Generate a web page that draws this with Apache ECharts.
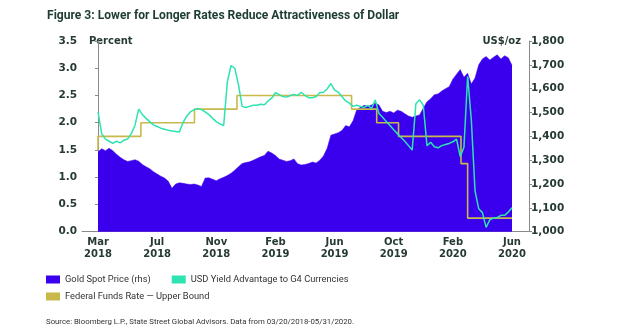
<!DOCTYPE html>
<html><head><meta charset="utf-8">
<script src="https://cdn.jsdelivr.net/npm/echarts@6/dist/echarts.min.js"></script>
<style>html,body{margin:0;padding:0;background:#fff}#c{width:617px;height:335px}</style>
</head><body><div id="c"></div>
<script>
// x positions are observation indices (roughly weekly, 03/20/2018 .. 05/31/2020)
const tickIdx = [0, 16, 32, 48, 64, 80, 96, 112];
const tickLabels = ['Mar\n2018','Jul\n2018','Nov\n2018','Feb\n2019','Jun\n2019','Oct\n2019','Feb\n2020','Jun\n2020'];

const goldPrice = [
 1335,1348,1340,1350,1340,1325,1312,1302,1295,1298,1302,1296,1282,1272,1264,1252,1242,1233,1225,1212,
 1182,1200,1205,1203,1200,1198,1200,1196,1190,1225,1226,1220,1214,1222,1228,1236,1245,1258,1272,1286,
 1290,1293,1300,1307,1314,1320,1338,1330,1320,1305,1300,1295,1298,1305,1285,1280,1282,1286,1292,1288,
 1300,1318,1350,1405,1410,1415,1425,1445,1440,1465,1512,1522,1530,1525,1532,1540,1532,1505,1500,1505,
 1498,1510,1505,1495,1485,1480,1485,1490,1518,1545,1558,1575,1578,1590,1600,1608,1640,1660,1680,1648,
 1665,1620,1645,1700,1725,1735,1720,1732,1742,1725,1738,1730,1698
];
const usdYieldAdv = [
 2.20,1.80,1.70,1.66,1.62,1.66,1.63,1.68,1.70,1.80,1.95,2.25,2.15,2.08,2.02,1.96,1.93,1.90,1.88,1.86,
 1.85,1.84,1.83,2.00,2.12,2.20,2.24,2.26,2.24,2.20,2.15,2.08,2.02,1.98,1.95,2.75,3.05,3.00,2.70,2.30,
 2.28,2.30,2.32,2.32,2.34,2.33,2.40,2.45,2.55,2.52,2.48,2.47,2.50,2.52,2.50,2.56,2.50,2.46,2.46,2.48,
 2.55,2.56,2.62,2.72,2.60,2.56,2.48,2.40,2.36,2.30,2.32,2.30,2.28,2.32,2.26,2.42,2.17,2.10,2.02,1.95,
 1.87,1.80,1.73,1.66,1.58,1.50,2.35,2.42,2.32,1.58,1.64,1.56,1.54,1.58,1.60,1.62,1.65,1.70,1.38,1.55,
 2.85,2.05,0.75,0.42,0.35,0.08,0.22,0.25,0.26,0.30,0.30,0.36,0.44
];
const fedChangeIdx = [0, 0, 11.6, 26.1, 37.6, 68.6, 75.4, 81.3, 98.2, 100.0, 112];
const fedUpperBound = [1.50, 1.75, 2.00, 2.25, 2.50, 2.25, 2.00, 1.75, 1.25, 0.25, 0.25];

const GOLD_C = '#3a00ee', USD_C = '#2de3b0', FED_C = '#c8b94a';
const TXT = '#263a33';
const AX = '#8a8a8a';
const tickFont = { fontFamily: '"DejaVu Sans"', fontWeight: 'bold', fontSize: 10, color: TXT };
const sans = 'Roboto, sans-serif';

const chart = echarts.init(document.getElementById('c'), null, { renderer: 'canvas' });
chart.setOption({
  animation: false,
  backgroundColor: '#fff',
  title: {
    text: 'Figure 3: Lower for Longer Rates Reduce Attractiveness of Dollar',
    left: 47, top: 10, padding: 0,
    textStyle: { fontFamily: sans, fontWeight: 'bold', fontSize: 12.1, color: '#1e3d31' }
  },
  grid: { left: 82, right: 88, top: 41, bottom: 103.3 },
  xAxis: {
    type: 'value', min: -4.33, max: 116.6,
    splitLine: { show: false },
    axisLine: { show: true, lineStyle: { color: AX, width: 1 } },
    axisTick: { show: false },
    axisLabel: Object.assign({
      customValues: tickIdx, margin: 4, lineHeight: 12.5,
      formatter: v => { const k = tickIdx.indexOf(Math.round(v)); return k >= 0 ? tickLabels[k] : ''; }
    }, tickFont)
  },
  yAxis: [
    {
      type: 'value', min: 0, max: 3.5, interval: 0.5, position: 'left',
      splitLine: { show: false },
      axisLine: { show: true, lineStyle: { color: AX } },
      axisTick: { show: true, length: 3, lineStyle: { color: AX } },
      axisLabel: Object.assign({ margin: 5, formatter: v => v.toFixed(1) }, tickFont, { fontSize: 10.5 })
    },
    {
      type: 'value', min: 1000, max: 1800, interval: 100, position: 'right',
      splitLine: { show: false },
      axisLine: { show: true, lineStyle: { color: AX } },
      axisTick: { show: true, length: 3, lineStyle: { color: AX } },
      axisLabel: Object.assign({ margin: 2, formatter: v => v.toLocaleString('en-US') }, tickFont, { fontSize: 10.5 })
    }
  ],
  legend: [
    {
      data: ['Gold Spot Price (rhs)', 'USD Yield Advantage to G4 Currencies'],
      left: 46, top: 275, padding: 0, itemWidth: 14, itemHeight: 8, itemGap: 21, icon: 'rect',
      textStyle: { fontFamily: sans, fontSize: 9.3, color: '#333' }
    },
    {
      data: ['Federal Funds Rate \u2014 Upper Bound'],
      left: 46, top: 292, padding: 0, itemWidth: 14, itemHeight: 8, itemGap: 21, icon: 'rect',
      textStyle: { fontFamily: sans, fontSize: 9.3, color: '#333' }
    }
  ],
  graphic: [
    { type: 'text', left: 89, top: 36, style: { text: 'Percent', font: 'bold 10px "DejaVu Sans"', fill: TXT } },
    { type: 'text', right: 96, top: 36, style: { text: 'US$/oz', font: 'bold 10px "DejaVu Sans"', fill: TXT } },
    { type: 'text', left: 46, top: 318, style: { text: 'Source: Bloomberg L.P., State Street Global Advisors. Data from 03/20/2018-05/31/2020.', font: '7.8px ' + sans, fill: '#333' } }
  ],
  series: [
    {
      name: 'Gold Spot Price (rhs)', type: 'line', yAxisIndex: 1, showSymbol: false,
      data: goldPrice.map((v, i) => [i, v]),
      itemStyle: { color: GOLD_C }, lineStyle: { color: GOLD_C, width: 0.5 },
      areaStyle: { color: GOLD_C, opacity: 1, origin: 'start' }, z: 1
    },
    {
      name: 'USD Yield Advantage to G4 Currencies', type: 'line', yAxisIndex: 0, showSymbol: false,
      data: usdYieldAdv.map((v, i) => [i, v]),
      itemStyle: { color: USD_C }, lineStyle: { color: USD_C, width: 1.5 }, z: 3
    },
    {
      name: 'Federal Funds Rate \u2014 Upper Bound', type: 'line', yAxisIndex: 0, showSymbol: false, step: 'end',
      data: fedChangeIdx.map((x, i) => [x, fedUpperBound[i]]),
      itemStyle: { color: FED_C }, lineStyle: { color: FED_C, width: 1.6 }, z: 2
    }
  ]
});
</script></body></html>
